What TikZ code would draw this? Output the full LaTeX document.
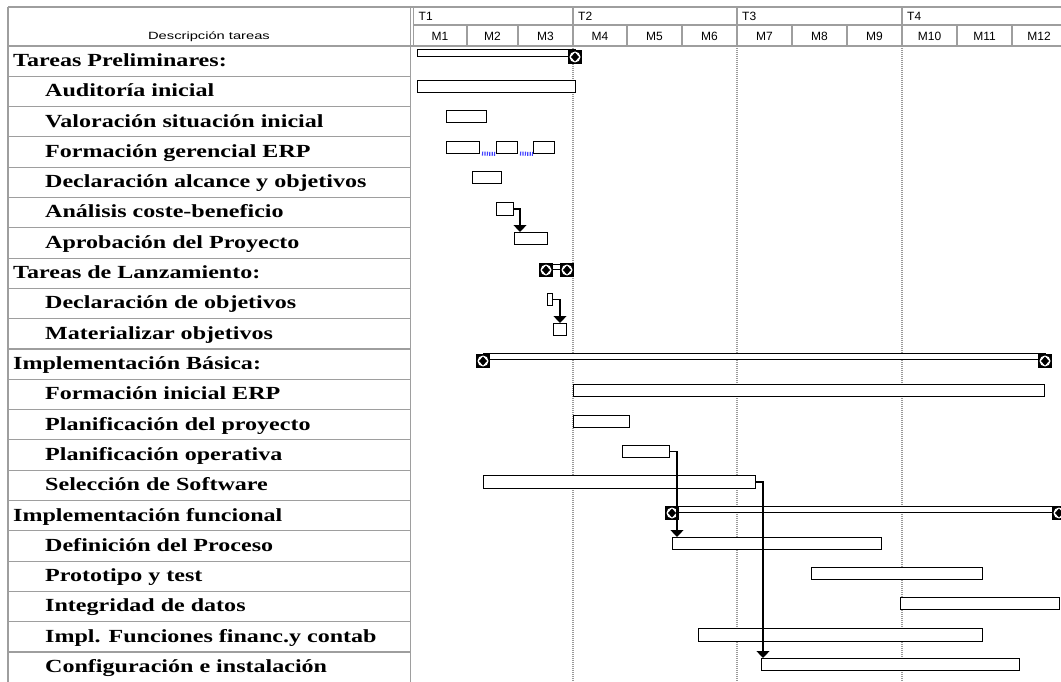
\documentclass[tikz,border=0pt]{standalone}
\usepackage{fontspec}
\setmainfont{Liberation Serif}
\newfontfamily\headfont{Liberation Sans}
\newfontfamily\descfont[FakeStretch=1.4]{Liberation Sans}
\newfontfamily\taskfont[FakeStretch=1.3]{Liberation Serif}
\usetikzlibrary{arrows.meta}

\tikzset{
  grid/.style={draw=black!38, line width=1.1pt},
  quarter/.style={draw=black!40, line width=1.2pt, dash pattern=on 1pt off 1pt},
  bar/.style={draw, line width=1pt, fill=white, minimum height=12pt, inner sep=0pt, anchor=north west},
  sumbar/.style={draw, line width=1pt, fill=white, minimum height=6pt, inner sep=0pt, anchor=north west},
  ms/.style={fill=black, minimum size=14pt, inner sep=0pt,
    path picture={
      \fill[white] (path picture bounding box.center) circle (5.5pt);
      \fill[black] ([yshift=4.5pt]path picture bounding box.center) -- ++(-4pt,-4.5pt) -- ++(4pt,-4.5pt) -- ++(4pt,4.5pt) -- cycle;}},
  dep/.style={draw, line width=1.1pt, -{Triangle[width=13pt,length=7pt]}},
  hd/.style={font=\headfont\fontsize{12}{14}\selectfont, inner sep=0pt},
  lab/.style={font=\taskfont\bfseries\fontsize{18.5}{20}\selectfont, inner sep=0pt, anchor=base west}
}

\begin{document}
\begin{tikzpicture}[x=1pt, y=-1pt]
\useasboundingbox (0,0) rectangle (1061,682);

% --- Header ---
\draw[grid] (8,7) -- (1061,7);
\draw[grid] (413.5,25) -- (1061,25);
\draw[grid] (8,46) -- (1061,46);
\draw[grid] (8,7) -- (8,682);
\draw[grid] (410.5,7) -- (410.5,682);
\node[hd, font=\descfont\fontsize{10.5}{12}\selectfont] (desc) at (209,37) {Descripción tareas};

\foreach \x/\t in {413.5/T1, 573/T2, 737/T3, 902/T4} {
    \draw[grid] (\x,7) -- (\x,46);
    \node[hd, anchor=west] (q\t) at (\x+5,16) {\t};
}
\foreach \a/\b [count=\k] in {413/467, 467/518, 518/573, 573/627, 627/682, 682/737,
                              737/792, 792/847, 847/902, 902/957, 957/1012, 1012/1066} {
    \draw[grid] (\b,25) -- (\b,46);
    \node[hd] (m\k) at ({(\a+\b)/2},36) {M\k};
}

% --- Task list ---
\foreach \lab/\ind [count=\i from 0] in {
    {Tareas Preliminares:}/0, {Auditoría inicial}/1, {Valoración situación inicial}/1,
    {Formación gerencial ERP}/1, {Declaración alcance y objetivos}/1,
    {Análisis coste-beneficio}/1, {Aprobación del Proyecto}/1,
    {Tareas de Lanzamiento:}/0, {Declaración de objetivos}/1, {Materializar objetivos}/1,
    {Implementación Básica:}/0, {Formación inicial ERP}/1,
    {Planificación del proyecto}/1, {Planificación operativa}/1,
    {Selección de Software}/1, {Implementación funcional}/0,
    {Definición del Proceso}/1, {Prototipo y test}/1, {Integridad de datos}/1,
    {Impl. Funciones financ.y contab}/1, {Configuración e instalación}/1} {
    \draw[grid] (8,{46+30.3*\i}) -- (410.5,{46+30.3*\i});
    \node[lab] (t\i) at ({13+32*\ind},{66.5+30.3*\i}) {\lab};
}

% --- Quarter lines ---
\foreach \x in {573, 737, 902}
    \draw[quarter] (\x,46) -- (\x,682);

% --- Summary bars and milestones ---
\node[sumbar, minimum width=158pt, minimum height=7pt] (sp) at (417,49) {};
\node[ms] (ms1) at (575,57) {};
\node[sumbar, minimum width=21pt, minimum height=5pt] (sl) at (546,264) {};
\node[ms] (ms2) at (546,270) {};
\node[ms] (ms3) at (567,270) {};
\node[sumbar, minimum width=562pt] (sb) at (483,353) {};
\node[ms] (ms4) at (483,361) {};
\node[ms] (ms5) at (1045,361) {};
\node[sumbar, minimum width=387pt] (sf) at (672,506) {};
\node[ms] (ms6) at (672,513) {};
\node[ms] (ms7) at (1059,513) {};

% --- Task bars ---
\node[bar, minimum width=158pt] (aud) at (417,80) {};
\node[bar, minimum width=40pt] (val) at (446,110) {};
\node[bar, minimum width=33pt] (fg1) at (446,141) {};
\node[bar, minimum width=21pt] (fg2) at (496,141) {};
\node[bar, minimum width=21pt] (fg3) at (533,141) {};
\node[bar, minimum width=29pt] (dal) at (472,171) {};
\node[bar, minimum width=17pt, minimum height=13pt] (ana) at (496,202) {};
\node[bar, minimum width=33pt] (apr) at (514,232) {};
\node[bar, minimum width=5pt] (dob) at (547,293) {};
\node[bar, minimum width=13pt] (mat) at (553,323) {};
\node[bar, minimum width=471pt] (fie) at (573,384) {};
\node[bar, minimum width=56pt] (ppr) at (573,415) {};
\node[bar, minimum width=47pt] (pop) at (622,445) {};
\node[bar, minimum width=272pt, minimum height=13pt] (sel) at (483,475) {};
\node[bar, minimum width=209pt] (def) at (672,537) {};
\node[bar, minimum width=171pt] (pro) at (811,567) {};
\node[bar, minimum width=159pt] (int) at (900,597) {};
\node[bar, minimum width=284pt, minimum height=13pt] (ifc) at (698,628) {};
\node[bar, minimum width=258pt] (cfg) at (761,658) {};

% split task links
\draw[blue!75, line width=4pt, dash pattern=on 1.2pt off 1.2pt] (fg1.south east) ++(2,-0.5) -- (fg2.south west);
\draw[blue!75, line width=4pt, dash pattern=on 1.2pt off 1.2pt] (fg2.south east) ++(2,-0.5) -- (fg3.south west);

% --- Dependencies ---
\draw[dep] (ana.east) -- ++(6,0) coordinate (ana-r) -- (ana-r |- apr.north);
\draw[dep] (dob.east) -- ++(7,0) coordinate (dob-r) -- (dob-r |- mat.north);
\draw[dep] (pop.east) -- ++(7,0) coordinate (pop-r) -- (pop-r |- def.north);
\draw[dep] (sel.east) -- ++(7,0) coordinate (sel-r) -- (sel-r |- cfg.north);

\end{tikzpicture}
\end{document}
